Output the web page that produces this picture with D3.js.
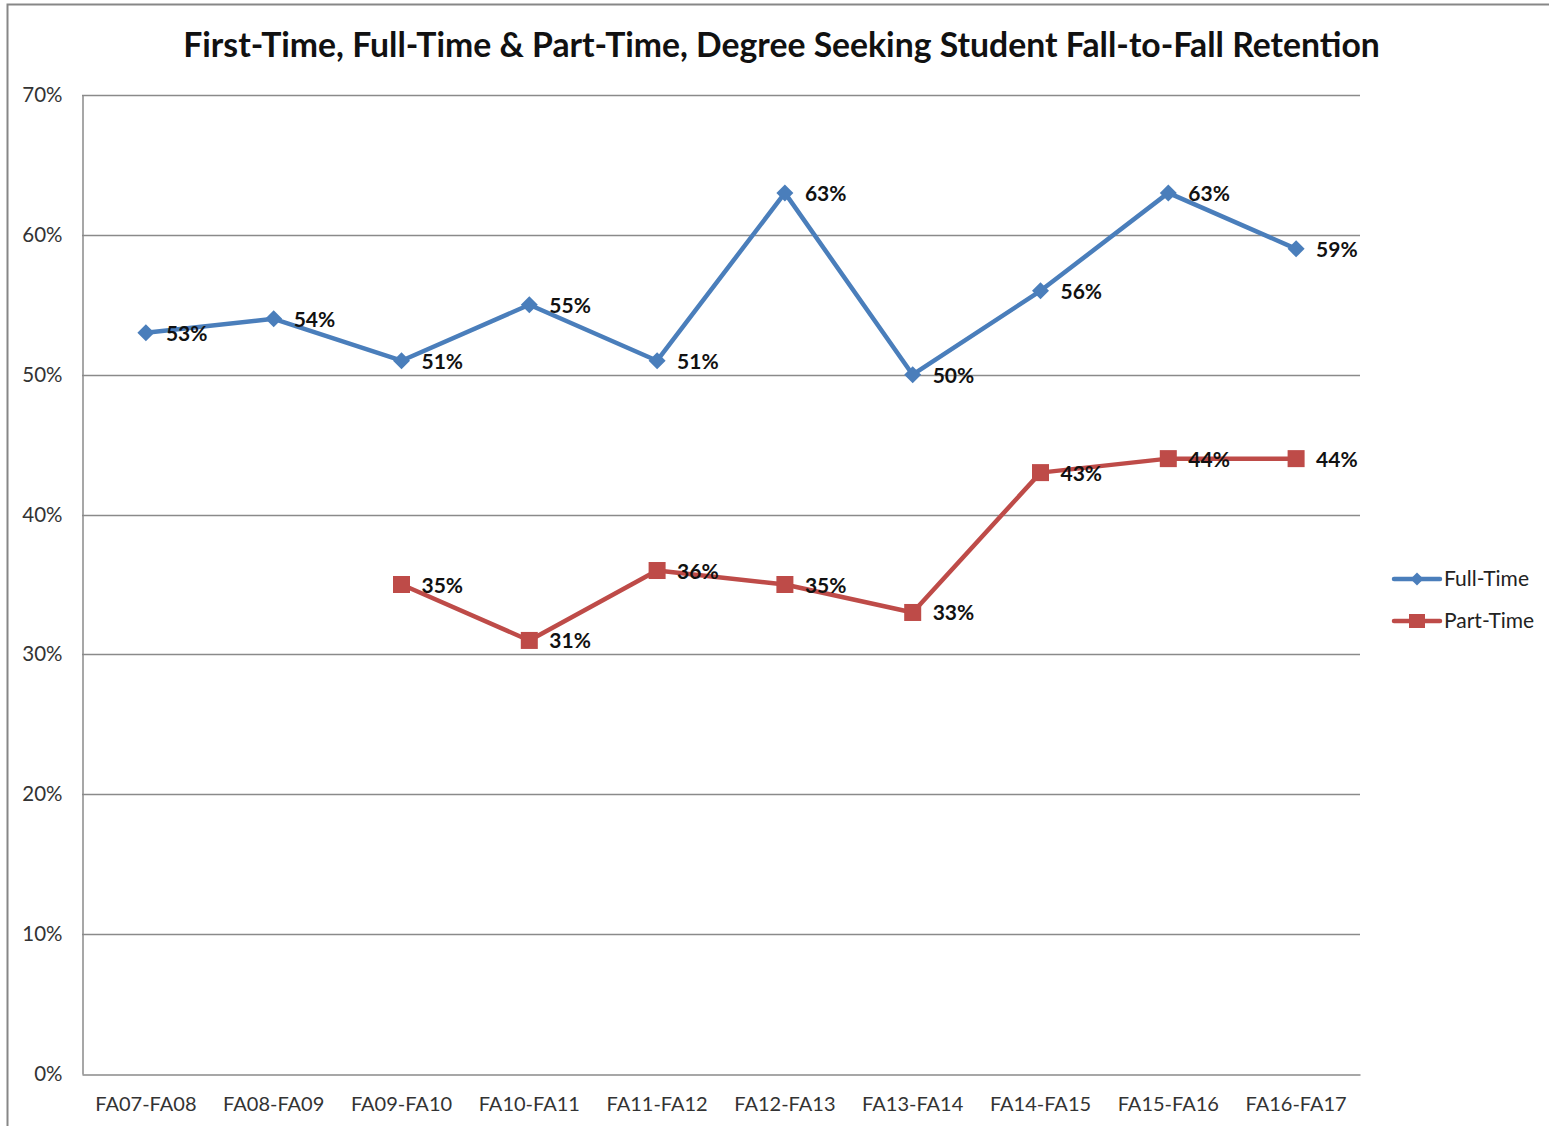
<!DOCTYPE html>
<html><head><meta charset="utf-8">
<script src="https://cdn.jsdelivr.net/npm/d3@7"></script>
<style>
html,body{margin:0;padding:0;background:#fff;}
svg{display:block;}
text{font-family:Lato,"Open Sans",sans-serif;}
</style></head>
<body>
<svg id="chart" width="1549" height="1126"></svg>
<script>
const categories = ["FA07-FA08","FA08-FA09","FA09-FA10","FA10-FA11","FA11-FA12","FA12-FA13","FA13-FA14","FA14-FA15","FA15-FA16","FA16-FA17"];
const fullTime = [0.53,0.54,0.51,0.55,0.51,0.63,0.50,0.56,0.63,0.59];
const partTime = [null,null,0.35,0.31,0.36,0.35,0.33,0.43,0.44,0.44];
const yTicks = [0,0.1,0.2,0.3,0.4,0.5,0.6,0.7];
const seriesNames = ["Full-Time","Part-Time"];
const titleText = "First-Time, Full-Time & Part-Time, Degree Seeking Student Fall-to-Fall Retention";

const svg = d3.select("#chart");
const W = 1549, H = 1126;
const plot = {left:82, right:1360, top:95, bottom:1074};
const blue = "#4A7EBB", red = "#BE4B48", grid = "#8a8a8a";

// outer chart border
svg.append("path").attr("d", `M7.5,${H} L7.5,4.5 L${W},4.5`).attr("fill","none").attr("stroke","#878787").attr("stroke-width",2);

const x = d3.scaleBand().domain(categories).range([plot.left, plot.right]);
const y = d3.scaleLinear().domain([0,0.7]).range([plot.bottom, plot.top]);
const cx = d => x(d) + x.bandwidth()/2;

// gridlines
svg.append("g").selectAll("line").data(yTicks.filter(t=>t>0)).join("line")
  .attr("x1",plot.left).attr("x2",plot.right)
  .attr("y1",d=>Math.round(y(d))+0.5).attr("y2",d=>Math.round(y(d))+0.5)
  .attr("stroke",grid).attr("stroke-width",1.3);

// y axis
const yAxis = svg.append("g").attr("transform",`translate(${plot.left+0.5},0)`)
  .call(d3.axisLeft(y).tickValues(yTicks).tickFormat(d3.format(".0%")).tickSize(0).tickPadding(20));
yAxis.select(".domain").attr("stroke",grid).attr("stroke-width",1.5);
yAxis.selectAll("text").attr("font-size",20.5).attr("fill","#333").attr("font-family","Lato,sans-serif");

// x axis
const xAxis = svg.append("g").attr("transform",`translate(0,${plot.bottom+0.5})`)
  .call(d3.axisBottom(x).tickSize(0).tickPadding(22));
xAxis.select(".domain").attr("stroke",grid).attr("stroke-width",1.5);
xAxis.selectAll("text").attr("font-size",20).attr("fill","#333").attr("font-family","Lato,sans-serif");

// title
const title = svg.append("text").attr("x",(183+1380)/2).attr("y",57).attr("text-anchor","middle")
  .attr("font-weight",700).attr("font-size",30).attr("fill","#111").text(titleText);
const tw = title.node().getComputedTextLength();
title.attr("font-size", 30*1197/tw);

const line = d3.line().defined(d=>d.v!=null).x(d=>cx(d.c)).y(d=>y(d.v));
const ftData = categories.map((c,i)=>({c, v:fullTime[i]}));
const ptData = categories.map((c,i)=>({c, v:partTime[i]}));

svg.append("path").datum(ftData).attr("d",line).attr("fill","none").attr("stroke",blue).attr("stroke-width",4.5).attr("stroke-linejoin","round");
svg.append("path").datum(ptData).attr("d",line).attr("fill","none").attr("stroke",red).attr("stroke-width",4.5).attr("stroke-linejoin","round");

const diamond = s => `M0,${-s} L${s},0 L0,${s} L${-s},0Z`;
svg.append("g").selectAll("path").data(ftData.filter(d=>d.v!=null)).join("path")
  .attr("transform",d=>`translate(${cx(d.c)},${y(d.v)})`).attr("d",diamond(8.5)).attr("fill",blue);
svg.append("g").selectAll("rect").data(ptData.filter(d=>d.v!=null)).join("rect")
  .attr("x",d=>cx(d.c)-8.5).attr("y",d=>y(d.v)-8.5).attr("width",17).attr("height",17).attr("fill",red);

const fmt = d3.format(".0%");
function labels(data){
  svg.append("g").selectAll("text").data(data.filter(d=>d.v!=null)).join("text")
    .attr("x",d=>cx(d.c)+20).attr("y",d=>y(d.v)+8)
    .attr("font-size",21).attr("font-weight",700).attr("fill","#111").text(d=>fmt(d.v));
}
labels(ftData); labels(ptData);

// legend
const legend = svg.append("g");
[{n:seriesNames[0],c:blue,t:"d",y:579},{n:seriesNames[1],c:red,t:"s",y:621}].forEach(l=>{
  legend.append("line").attr("x1",1394).attr("x2",1440).attr("y1",l.y).attr("y2",l.y).attr("stroke",l.c).attr("stroke-width",4.5).attr("stroke-linecap","round");
  if(l.t==="d") legend.append("path").attr("transform",`translate(1417,${l.y})`).attr("d",diamond(6.5)).attr("fill",l.c);
  else legend.append("rect").attr("x",1409).attr("y",l.y-7).attr("width",16).attr("height",14).attr("fill",l.c);
  legend.append("text").attr("x",1444).attr("y",l.y+7).attr("font-size",21).attr("fill","#222").text(l.n);
});
</script>
</body></html>
